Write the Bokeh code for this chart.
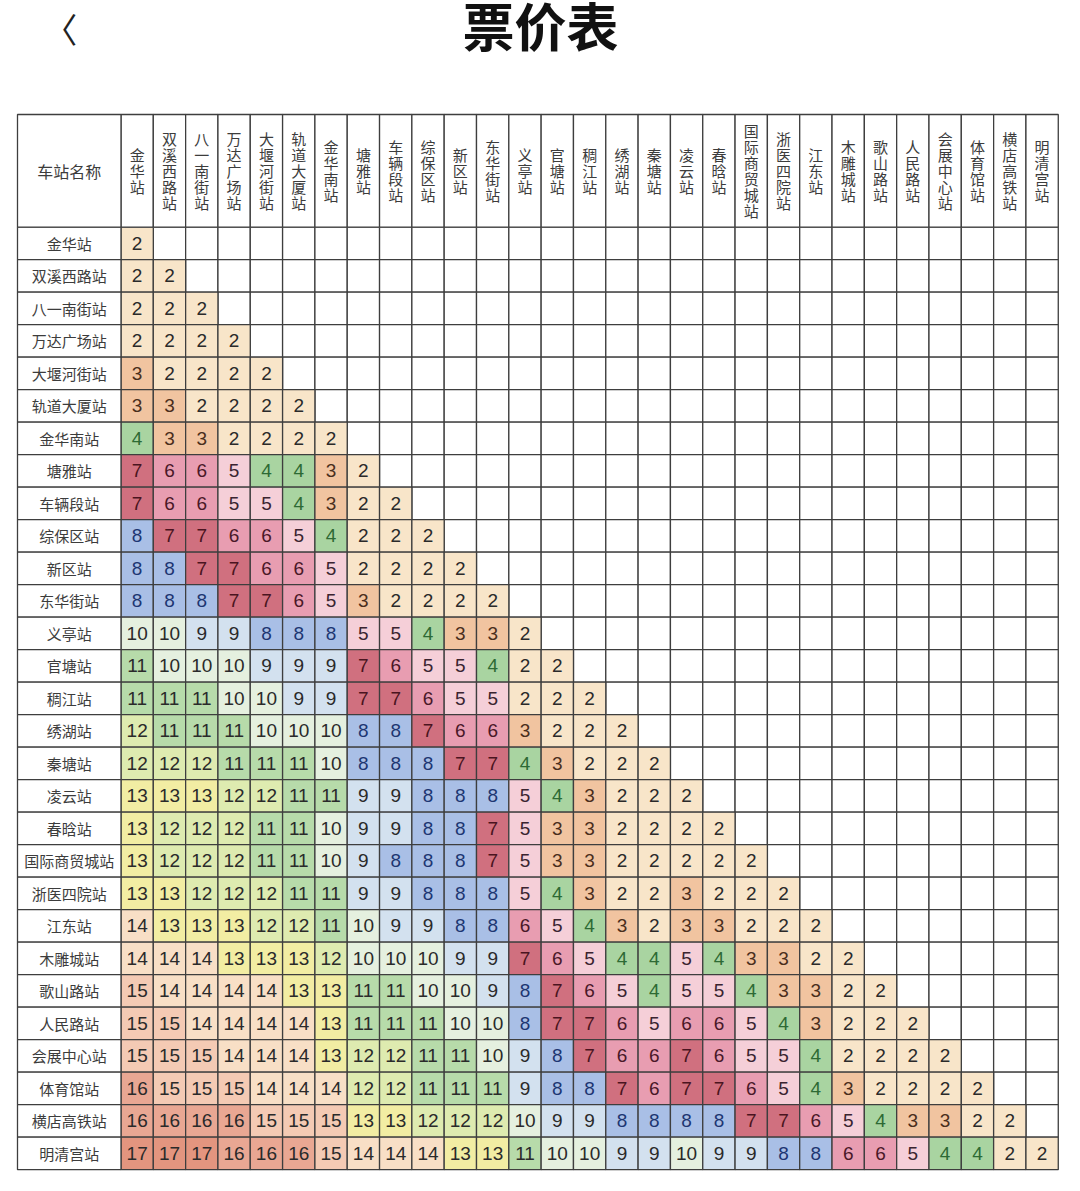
from bokeh.plotting import figure
from bokeh.models import ColumnDataSource, Range1d
from bokeh.core.properties import value
from bokeh.embed import file_html
from bokeh.resources import INLINE

# ---------------- data ----------------
title = "票价表"
corner_label = "车站名称"
stations = ["金华站", "双溪西路站", "八一南街站", "万达广场站", "大堰河街站", "轨道大厦站",
            "金华南站", "塘雅站", "车辆段站", "综保区站", "新区站", "东华街站", "义亭站",
            "官塘站", "稠江站", "绣湖站", "秦塘站", "凌云站", "春晗站", "国际商贸城站",
            "浙医四院站", "江东站", "木雕城站", "歌山路站", "人民路站", "会展中心站",
            "体育馆站", "横店高铁站", "明清宫站"]

fare_rows = [
    [2],
    [2, 2],
    [2, 2, 2],
    [2, 2, 2, 2],
    [3, 2, 2, 2, 2],
    [3, 3, 2, 2, 2, 2],
    [4, 3, 3, 2, 2, 2, 2],
    [7, 6, 6, 5, 4, 4, 3, 2],
    [7, 6, 6, 5, 5, 4, 3, 2, 2],
    [8, 7, 7, 6, 6, 5, 4, 2, 2, 2],
    [8, 8, 7, 7, 6, 6, 5, 2, 2, 2, 2],
    [8, 8, 8, 7, 7, 6, 5, 3, 2, 2, 2, 2],
    [10, 10, 9, 9, 8, 8, 8, 5, 5, 4, 3, 3, 2],
    [11, 10, 10, 10, 9, 9, 9, 7, 6, 5, 5, 4, 2, 2],
    [11, 11, 11, 10, 10, 9, 9, 7, 7, 6, 5, 5, 2, 2, 2],
    [12, 11, 11, 11, 10, 10, 10, 8, 8, 7, 6, 6, 3, 2, 2, 2],
    [12, 12, 12, 11, 11, 11, 10, 8, 8, 8, 7, 7, 4, 3, 2, 2, 2],
    [13, 13, 13, 12, 12, 11, 11, 9, 9, 8, 8, 8, 5, 4, 3, 2, 2, 2],
    [13, 12, 12, 12, 11, 11, 10, 9, 9, 8, 8, 7, 5, 3, 3, 2, 2, 2, 2],
    [13, 12, 12, 12, 11, 11, 10, 9, 8, 8, 8, 7, 5, 3, 3, 2, 2, 2, 2, 2],
    [13, 13, 12, 12, 12, 11, 11, 9, 9, 8, 8, 8, 5, 4, 3, 2, 2, 3, 2, 2, 2],
    [14, 13, 13, 13, 12, 12, 11, 10, 9, 9, 8, 8, 6, 5, 4, 3, 2, 3, 3, 2, 2, 2],
    [14, 14, 14, 13, 13, 13, 12, 10, 10, 10, 9, 9, 7, 6, 5, 4, 4, 5, 4, 3, 3, 2, 2],
    [15, 14, 14, 14, 14, 13, 13, 11, 11, 10, 10, 9, 8, 7, 6, 5, 4, 5, 5, 4, 3, 3, 2, 2],
    [15, 15, 14, 14, 14, 14, 13, 11, 11, 11, 10, 10, 8, 7, 7, 6, 5, 6, 6, 5, 4, 3, 2, 2, 2],
    [15, 15, 15, 14, 14, 14, 13, 12, 12, 11, 11, 10, 9, 8, 7, 6, 6, 7, 6, 5, 5, 4, 2, 2, 2, 2],
    [16, 15, 15, 15, 14, 14, 14, 12, 12, 11, 11, 11, 9, 8, 8, 7, 6, 7, 7, 6, 5, 4, 3, 2, 2, 2, 2],
    [16, 16, 16, 16, 15, 15, 15, 13, 13, 12, 12, 12, 10, 9, 9, 8, 8, 8, 8, 7, 7, 6, 5, 4, 3, 3, 2, 2],
    [17, 17, 17, 16, 16, 16, 15, 14, 14, 14, 13, 13, 11, 10, 10, 9, 9, 10, 9, 9, 8, 8, 6, 6, 5, 4, 4, 2, 2],
]

# ---------------- styles ----------------
fill_for = {2: "#f8e5c9", 3: "#f1c4a0", 4: "#a9d4a1", 5: "#f5cfd8", 6: "#e89db1",
            7: "#d0707f", 8: "#a9bfe6", 9: "#d3e1ef", 10: "#e5f0df", 11: "#b7dbaa",
            12: "#deebb0", 13: "#f2eda3", 14: "#f8dfc6", 15: "#f4cab4", 16: "#e9a793",
            17: "#e3957f"}
ink_for = {3: "#4a2e1c", 4: "#2d6a34", 5: "#3a2430", 6: "#4a1828", 7: "#4a1420",
           8: "#1d3672"}
default_ink = "#2a2a2a"
grid_color = "#3e3e3e"
grid_w = 1.3

n = len(stations)
px_w, px_h = 32.32, 32.5           # pixels per cell
hdr_x0 = -3.202                    # left edge of the name column (cell units)
hdr_y0 = -3.468                    # top edge of the header row (cell units)

W, H = 1072, 1183
x0 = -3.728
y0 = -6.975
p = figure(width=W, height=H, output_backend="svg", toolbar_location=None,
           x_range=Range1d(x0, x0 + W / px_w),
           y_range=Range1d(y0 + H / px_h, y0),
           min_border=0, background_fill_color="white", border_fill_color="white")
p.axis.visible = False
p.grid.visible = False
p.outline_line_color = None

# filled cells
cx, cy, fills, inks, labels = [], [], [], [], []
for r, row in enumerate(fare_rows):
    for c, v in enumerate(row):
        cx.append(c + 0.5)
        cy.append(r + 0.5)
        fills.append(fill_for[v])
        inks.append(ink_for.get(v, default_ink))
        labels.append(str(v))
cells = ColumnDataSource(dict(x=cx, y=cy, fill=fills, ink=inks, label=labels))

# empty cells (upper triangle)
ex, ey = [], []
for r in range(n):
    for c in range(r + 1, n):
        ex.append(c + 0.5)
        ey.append(r + 0.5)

p.rect(x=ex, y=ey, width=1, height=1, fill_color="white",
       line_color=grid_color, line_width=grid_w)
p.rect(x="x", y="y", width=1, height=1, fill_color="fill", source=cells,
       line_color=grid_color, line_width=grid_w)
p.text(x="x", y="y", text="label", source=cells, text_color="ink",
       text_align="center", text_baseline="middle",
       text_font=value("Liberation Sans"), text_font_size="19px")

# name column
ry = [r + 0.5 for r in range(n)]
p.rect(x=[hdr_x0 / 2] * n, y=ry, width=-hdr_x0, height=1, fill_color="white",
       line_color=grid_color, line_width=grid_w)
p.text(x=[hdr_x0 / 2] * n, y=ry, text=stations, text_align="center",
       text_baseline="middle", text_color="#3c3c3c",
       text_font=value("Noto Sans CJK SC"), text_font_size="15px")

# header row (vertical station names)
hx = [c + 0.5 for c in range(n)]
p.rect(x=hx, y=[hdr_y0 / 2] * n, width=1, height=-hdr_y0, fill_color="white",
       line_color=grid_color, line_width=grid_w)
p.text(x=hx, y=[hdr_y0 / 2] * n, text=["\n".join(s) for s in stations],
       text_align="center", text_baseline="middle", text_color="#3c3c3c",
       text_line_height=0.76,
       text_font=value("Noto Sans CJK SC"), text_font_size="15px")

# corner cell
p.rect(x=[hdr_x0 / 2], y=[hdr_y0 / 2], width=-hdr_x0, height=-hdr_y0,
       fill_color="white", line_color=grid_color, line_width=grid_w)
p.text(x=[hdr_x0 / 2], y=[hdr_y0 / 2], text=[corner_label], text_align="center",
       text_baseline="middle", text_color="#3c3c3c",
       text_font=value("Noto Sans CJK SC"), text_font_size="16px")

# title and back chevron
p.text(x=[12.98], y=[-6.24], text=[title], text_align="center", text_baseline="middle",
       text_color="#111111", text_font=value("Noto Sans CJK SC"),
       text_font_style="bold", text_font_size="52px")
p.text(x=[-1.88], y=[-6.12], text=["〈"], text_align="center", text_baseline="middle",
       text_color="#222222", text_font=value("Noto Sans CJK SC"),
       text_font_size="34px")

open("out.html", "w").write(file_html(p, INLINE))
